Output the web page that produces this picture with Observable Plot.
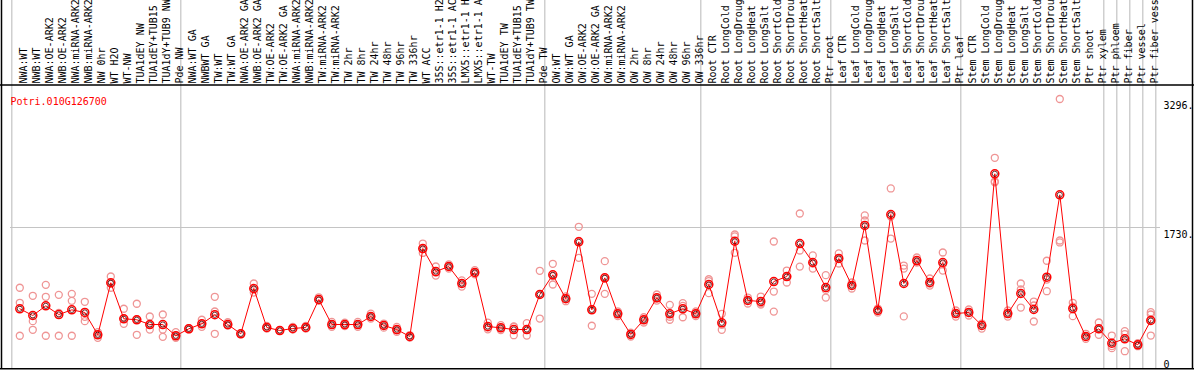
<!DOCTYPE html>
<html><head><meta charset="utf-8">
<script src="https://cdn.jsdelivr.net/npm/d3@7"></script>
<script src="https://cdn.jsdelivr.net/npm/@observablehq/plot@0.6"></script>
<style>body{margin:0;background:#fff} svg{display:block}</style>
</head><body><div id="chart"></div>
<script>
const labels = ["NWA:WT","NWB:WT","NWA:OE-ARK2","NWB:OE-ARK2","NWA:miRNA-ARK2","NWB:miRNA-ARK2","NW 0hr","WT H2O","WT-NW","TUA1dEY NW","TUA1dEY+TUB15 NW","TUA1dY+TUB9 NW","Pde NW",
"NWA:WT GA","NWBWT GA","TW:WT","TW:WT GA","NWA:OE-ARK2 GA","NWB:OE-ARK2 GA","TW:OE-ARK2","TW:OE-ARK2 GA","NWA:miRNA-ARK2","NWB:miRNA-ARK2","TW:miRNA-ARK2","TW:miRNA-ARK2","TW 2hr","TW 8hr","TW 24hr","TW 48hr","TW 96hr","TW 336hr","WT ACC","35S::etr1-1 H2O","35S::etr1-1 ACC","LMX5::etr1-1 H2O","LMX5::etr1-1 ACC","WT-TW","TUA1dEY TW","TUA1dEY+TUB15 TW","TUA1dY+TUB9 TW","Pde TW",
"OW:WT","OW:WT GA","OW:OE-ARK2","OW:OE-ARK2 GA","OW:miRNA-ARK2","OW:miRNA-ARK2","OW 2hr","OW 8hr","OW 24hr","OW 48hr","OW 96hr","OW 336hr",
"Root CTR","Root LongCold","Root LongDrought","Root LongHeat","Root LongSalt","Root ShortCold","Root ShortDrought","Root ShortHeat","Root ShortSalt","Ptr root",
"Leaf CTR","Leaf LongCold","Leaf LongDrought","Leaf LongHeat","Leaf LongSalt","Leaf ShortCold","Leaf ShortDrought","Leaf ShortHeat","Leaf ShortSalt","Ptr leaf",
"Stem CTR","Stem LongCold","Stem LongDrought","Stem LongHeat","Stem LongSalt","Stem ShortCold","Stem ShortDrought","Stem ShortHeat","Stem ShortSalt","Ptr shoot","Ptr xylem",
"Ptr phloem","Ptr fiber","Ptr vessel","Ptr fiber vessel"];

const means = [740,658,776,670,727,695,423,1057,618,606,548,548,411,
496,557,667,548,435,987,512,475,500,512,853,548,548,548,646,536,487,402,1474,1194,1255,1048,1182,524,508,487,487,914,
1154,862,1556,727,1117,679,427,606,874,679,740,679,
1036,569,1563,841,829,1072,1133,1535,1304,999,
1353,1024,1755,719,1889,1048,1328,1060,1304,682,
695,536,2385,682,926,731,1125,2129,743,402,496,
320,374,301,597];

const replicates = [
[996,813,411],[898,589,484],[1032,886,411],[910,690,411],[922,837,411],[825,642,589],[455,386,423],[1133,996,1045],[740,557,621],[801,423,609],[646,487,548],[670,487,398],[455,386,414],
[494,505,488],[606,557,520],[886,707,435],[576,536,540],[440,430,436],[1048,938,975],[530,500,505],[480,470,476],[520,490,490],[530,500,505],[880,840,840],[580,520,545],[570,530,545],[580,520,545],[680,620,640],[560,510,540],[520,460,480],[420,390,396],[1535,1420,1467],[1255,1145,1180],[1280,1230,1255],[1085,1010,1050],[1210,1160,1176],[570,490,512],[540,480,505],[524,418,519],[564,414,483],[1203,621,918],
[1288,1036,1138],[832,890,864],[1739,1361,1568],[922,533,726],[1320,922,1109],[707,650,680],[450,402,429],[637,573,608],[914,840,868],[788,606,643],[808,637,775],[707,650,680],
[1100,930,1078],[679,484,544],[1645,1422,1622],[877,804,842],[889,792,806],[1560,950,706],[1206,1060,1133],[1901,1450,1254],[1390,1230,1292],[1150,877,970],
[1414,1292,1353],[1060,987,1025],[1877,1816,1572],[743,694,720],[2206,1596,1865],[1267,1230,647],[1365,1304,1315],[1109,1023,1048],[1426,1206,1280],[719,645,682],
[731,658,696],[560,499,549],[2580,2282,2293],[719,645,682],[1048,975,755],[828,780,585],[1325,954,1096],[3296,1572,1548],[813,650,766],[435,374,397],[573,423,492],
[414,260,286],[467,223,432],[284,320,299],[698,670,414,606]];

const groupStarts = [0,13,41,53,63,73,84,85,86,87,88];
const title = "Potri.010G126700";
const yTickValues = [3296, 1730, 0];
const yTickLabels = ["3296.", "1730.", "0"];

const meanData = means.map((v, i) => ({i, v}));
const repData = replicates.flatMap((r, i) => r.map(v => ({i, v})));
const yTop = d3.max(repData, d => d.v) * 1.05;
const ticks = yTickValues.map((v, k) => ({v, label: yTickLabels[k]}));

function border(index, scales, values, dims) {
  const w = dims.width, h = dims.height;
  const g = d3.create("svg:g").attr("fill", "none").attr("stroke", "black").attr("stroke-width", 1.5);
  g.append("path").attr("d", `M1.5,0V${h - 1}M${w - 1.5},0V${h - 1}M0,${dims.marginTop}H${w}M0,${h - 1.25}H${w}`);
  return g.node();
}

const chart = Plot.plot({
  width: 1194, height: 370,
  marginTop: 85, marginBottom: 1, marginLeft: 0, marginRight: 0,
  x: {type: "linear", domain: [-0.5, labels.length - 0.5], range: [12.8, 1156.8], axis: null},
  y: {domain: [0, yTop], axis: null},
  style: {fontFamily: "'DejaVu Sans Mono', monospace", fontSize: "10px", background: "white", overflow: "hidden"},
  marks: [
    Plot.ruleX(groupStarts, {x: d => d, dx: -8, insetTop: -85, stroke: "#c4c4c4", strokeWidth: 1.2}),
    Plot.ruleY([yTop / 2], {stroke: "#c4c4c4", strokeWidth: 1.2, insetLeft: 10, insetRight: 34}),
    Plot.text(labels, {x: (d, i) => i, frameAnchor: "top", dy: -2, rotate: -90, textAnchor: "start", fill: "black", fontSize: 10}),
    Plot.text([title], {frameAnchor: "top-left", dx: 10, dy: 12, textAnchor: "start", fill: "red", fontSize: 10}),
    Plot.text(ticks.filter(d => d.v > 0), {y: "v", text: "label", frameAnchor: "right", dx: -31, dy: 3, textAnchor: "start", lineAnchor: "top", fill: "black", fontSize: 10}),
    Plot.text(ticks.filter(d => d.v === 0), {y: "v", text: "label", frameAnchor: "right", dx: -31, dy: -2, textAnchor: "start", lineAnchor: "bottom", fill: "black", fontSize: 10}),
    Plot.dot(repData, {x: "i", y: "v", r: 3.5, stroke: "#ef9595", strokeWidth: 1.3, fill: "none"}),
    Plot.line(meanData, {x: "i", y: "v", stroke: "red", strokeWidth: 1}),
    Plot.dot(meanData, {x: "i", y: "v", r: 4, stroke: "red", strokeWidth: 1.5, fill: "none"}),
    Plot.dot(meanData, {x: "i", y: "v", r: 2.6, stroke: "#400", strokeWidth: 0.8, fill: "none"}),
    border
  ]
});
document.getElementById("chart").append(chart);
</script>
</body></html>
